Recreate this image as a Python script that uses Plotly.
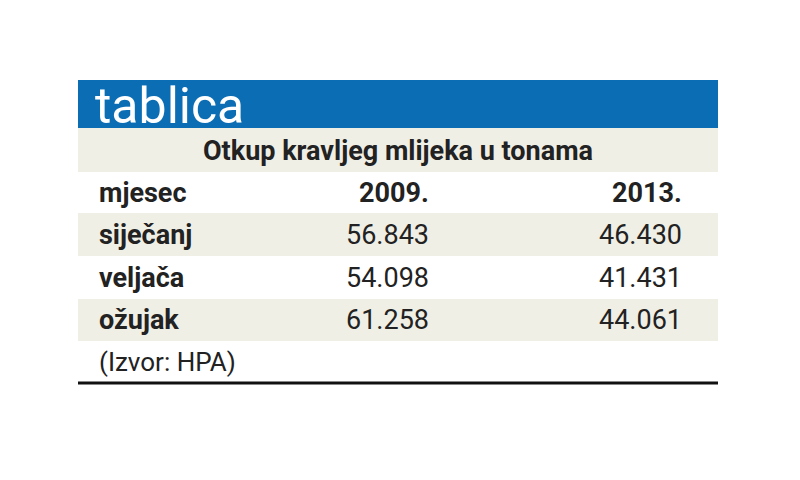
import plotly.graph_objects as go

header = "tablica"
title = "Otkup kravljeg mlijeka u tonama"
col_head = ["mjesec", "2009.", "2013."]
months = ["siječanj", "veljača", "ožujak"]
v2009 = ["56.843", "54.098", "61.258"]
v2013 = ["46.430", "41.431", "44.061"]
source = "(Izvor: HPA)"

FONT = "Liberation Sans Narrow, Roboto, sans-serif"
BLUE = "#0b6db3"
BEIGE = "#f0efe6"
X0, X1 = 78, 718
row_tops = [172, 213, 256, 299, 341, 383]

fig = go.Figure()
shapes = [
    dict(type="rect", x0=X0, x1=X1, y0=80, y1=128, fillcolor=BLUE, line_width=0, layer="below"),
    dict(type="rect", x0=X0, x1=X1, y0=128, y1=172, fillcolor=BEIGE, line_width=0, layer="below"),
]
for i in range(5):
    if i in (1, 3):
        shapes.append(dict(type="rect", x0=X0, x1=X1, y0=row_tops[i], y1=row_tops[i + 1],
                           fillcolor=BEIGE, line_width=0, layer="below"))
shapes.append(dict(type="line", x0=X0, x1=X1, y0=383, y1=383, line=dict(color="#111", width=3)))

ann = [
    dict(x=93, y=106, text=header, xanchor="left", font=dict(size=50, color="white", family=FONT)),
    dict(x=398, y=151, text="<b>" + title + "</b>", xanchor="center", font=dict(size=27, color="#222", family=FONT)),
]
bold = lambda t: "<b>" + t + "</b>"
def row(i, a, b, c, hb):
    y = (row_tops[i] + row_tops[i + 1]) / 2
    ann.append(dict(x=97, y=y, text=bold(a), xanchor="left", font=dict(size=27, color="#222", family=FONT)))
    ann.append(dict(x=431, y=y, text=bold(b) if hb else b, xanchor="right", font=dict(size=27, color="#222", family=FONT)))
    ann.append(dict(x=684, y=y, text=bold(c) if hb else c, xanchor="right", font=dict(size=27, color="#222", family=FONT)))
row(0, *col_head, True)
for k in range(3):
    row(k + 1, months[k], v2009[k], v2013[k], False)
ann.append(dict(x=97, y=362, text=source, xanchor="left", font=dict(size=26, color="#222", family=FONT)))
for a in ann:
    a.update(showarrow=False, yanchor="middle")

fig.update_layout(width=800, height=480, margin=dict(l=0, r=0, t=0, b=0),
                  plot_bgcolor="white", paper_bgcolor="white", shapes=shapes, annotations=ann,
                  xaxis=dict(range=[8, 808], visible=False, fixedrange=True),
                  yaxis=dict(range=[488, 8], visible=False, fixedrange=True),
                  showlegend=False)
fig.write_html("out.html")
